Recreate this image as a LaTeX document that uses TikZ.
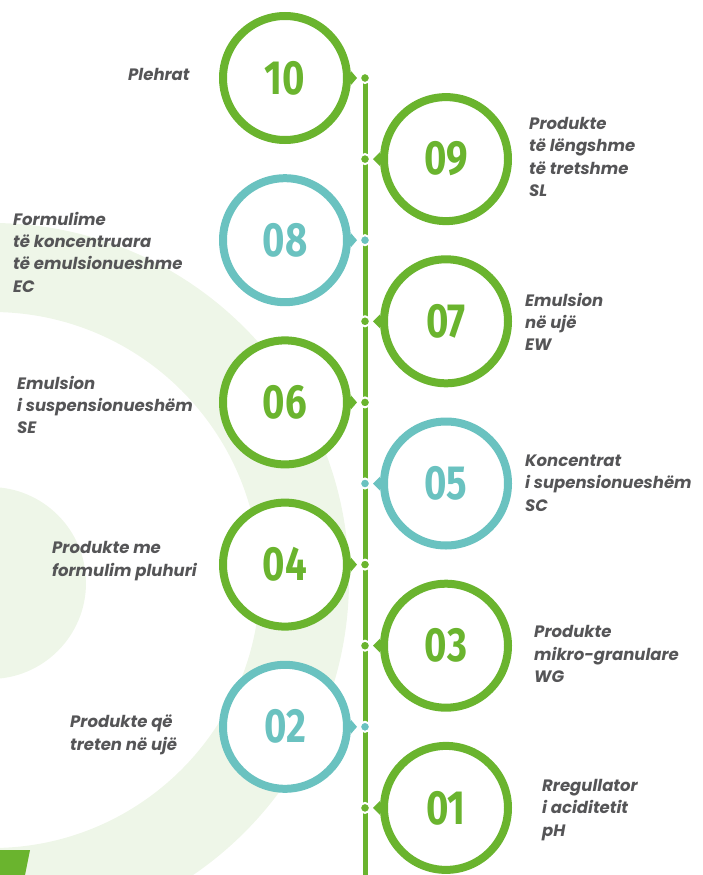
\documentclass[tikz,border=0pt]{standalone}
\usepackage{fontspec}
\usepackage{graphicx}
\setmainfont{Poppins}
\newfontfamily\digitfont{Fira Sans}
\definecolor{leaf}{HTML}{6AB42E}
\definecolor{lagoon}{HTML}{6AC2C0}
\definecolor{mist}{HTML}{EEF6E8}
\definecolor{ink}{HTML}{555557}
\newcommand{\digits}[1]{\scalebox{0.8}[1]{#1}}
\begin{document}
\begin{tikzpicture}[x=1pt, y=-1pt,
  numring/.style={circle, line width=8pt, minimum size=124pt, inner sep=0pt, fill=white,
    font=\digitfont\fontsize{48}{48}\selectfont\bfseries},
  railpin/.style={circle, draw=white, line width=2pt, minimum size=10pt, inner sep=0pt},
  caption/.style={align=left, anchor=west, inner sep=0pt, text=ink,
    font=\fontsize{16.5}{22.3}\selectfont\bfseries\itshape},
]
\useasboundingbox (0,0) rectangle (702,875);
% background
\begin{scope}
\clip (0,0) rectangle (702,875);
\fill[mist, even odd rule] (-8,580) circle[radius=357] (-8,580) circle[radius=268];
\fill[mist] (-10,583) circle[radius=96];
\fill[leaf] (0,850) -- (30,850) -- (25,875) -- (0,875) -- cycle;
\end{scope}
% rail
\coordinate (p10) at (365,78);
\coordinate (p09) at (365,159.1);
\coordinate (p08) at (365,240.2);
\coordinate (p07) at (365,321.3);
\coordinate (p06) at (365,402.4);
\coordinate (p05) at (365,483.5);
\coordinate (p04) at (365,564.6);
\coordinate (p03) at (365,645.7);
\coordinate (p02) at (365,726.8);
\coordinate (p01) at (365,807.9);
\coordinate (pend) at (365,875);
\draw[leaf, line width=5pt] (p10) -- (pend);
\node[railpin, fill=leaf] (d10) at (p10) {};
\node[railpin, fill=leaf] (d09) at (p09) {};
\node[railpin, fill=lagoon] (d08) at (p08) {};
\node[railpin, fill=leaf] (d07) at (p07) {};
\node[railpin, fill=leaf] (d06) at (p06) {};
\node[railpin, fill=lagoon] (d05) at (p05) {};
\node[railpin, fill=leaf] (d04) at (p04) {};
\node[railpin, fill=leaf] (d03) at (p03) {};
\node[railpin, fill=lagoon] (d02) at (p02) {};
\node[railpin, fill=leaf] (d01) at (p01) {};
% steps, left side
\node[numring, draw=leaf, text=leaf] (c10) at (285,78) {\digits{10}};
\fill[leaf] ([yshift=-7pt]c10.east) -- ([xshift=-2pt]d10.west) -- ([yshift=7pt]c10.east) -- cycle;
\node[numring, draw=lagoon, text=lagoon] (c08) at (285,240.2) {\digits{08}};
\fill[lagoon] ([yshift=-7pt]c08.east) -- ([xshift=-2pt]d08.west) -- ([yshift=7pt]c08.east) -- cycle;
\node[numring, draw=leaf, text=leaf] (c06) at (285,402.4) {\digits{06}};
\fill[leaf] ([yshift=-7pt]c06.east) -- ([xshift=-2pt]d06.west) -- ([yshift=7pt]c06.east) -- cycle;
\node[numring, draw=leaf, text=leaf] (c04) at (285,564.6) {\digits{04}};
\fill[leaf] ([yshift=-7pt]c04.east) -- ([xshift=-2pt]d04.west) -- ([yshift=7pt]c04.east) -- cycle;
\node[numring, draw=lagoon, text=lagoon] (c02) at (285,726.8) {\digits{02}};
\fill[lagoon] ([yshift=-7pt]c02.east) -- ([xshift=-2pt]d02.west) -- ([yshift=7pt]c02.east) -- cycle;
% steps, right side
\node[numring, draw=leaf, text=leaf] (c09) at (446,159.1) {\digits{09}};
\fill[leaf] ([yshift=-7pt]c09.west) -- ([xshift=2pt]d09.east) -- ([yshift=7pt]c09.west) -- cycle;
\node[numring, draw=leaf, text=leaf] (c07) at (446,321.3) {\digits{07}};
\fill[leaf] ([yshift=-7pt]c07.west) -- ([xshift=2pt]d07.east) -- ([yshift=7pt]c07.west) -- cycle;
\node[numring, draw=lagoon, text=lagoon] (c05) at (446,483.5) {\digits{05}};
\fill[lagoon] ([yshift=-7pt]c05.west) -- ([xshift=2pt]d05.east) -- ([yshift=7pt]c05.west) -- cycle;
\node[numring, draw=leaf, text=leaf] (c03) at (446,645.7) {\digits{03}};
\fill[leaf] ([yshift=-7pt]c03.west) -- ([xshift=2pt]d03.east) -- ([yshift=7pt]c03.west) -- cycle;
\node[numring, draw=leaf, text=leaf] (c01) at (446,807.9) {\digits{01}};
\fill[leaf] ([yshift=-7pt]c01.west) -- ([xshift=2pt]d01.east) -- ([yshift=7pt]c01.west) -- cycle;
% captions
\node[caption] (t10) at (128,74) {Plehrat};
\node[caption] (t08) at (13,252) {Formulime\\të koncentruara\\të emulsionueshme\\EC};
\node[caption] (t06) at (17,405) {Emulsion\\i suspensionueshëm\\SE};
\node[caption] (t04) at (52,561) {Produkte me\\formulim pluhuri};
\node[caption] (t02) at (70,735) {Produkte që\\treten në ujë};
\node[caption] (t09) at (529,157) {Produkte\\të lëngshme\\të tretshme\\SL};
\node[caption] (t07) at (525,322) {Emulsion\\në ujë\\EW};
\node[caption] (t05) at (525,483) {Koncentrat\\i supensionueshëm\\SC};
\node[caption] (t03) at (534,654) {Produkte\\mikro-granulare\\WG};
\node[caption] (t01) at (542,810) {Rregullator\\i aciditetit\\pH};
\end{tikzpicture}
\end{document}
